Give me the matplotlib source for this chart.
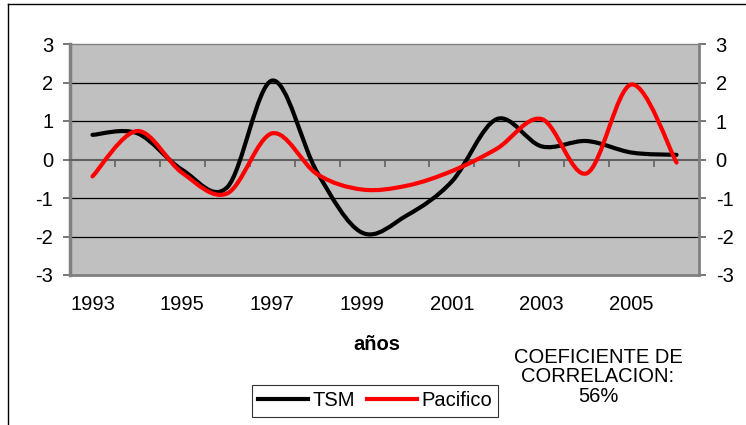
import numpy as np
import matplotlib
matplotlib.use('Agg')
import matplotlib.pyplot as plt
from matplotlib.path import Path
from matplotlib.patches import PathPatch
from matplotlib.lines import Line2D
import matplotlib.transforms as mtransforms

#### DATA

years = [1993, 1994, 1995, 1996, 1997, 1998, 1999, 2000, 2001, 2002, 2003, 2004, 2005, 2006]
tsm = [0.64, 0.68, -0.27, -0.72, 2.05, -0.33, -1.90, -1.45, -0.57, 1.05, 0.34, 0.48, 0.18, 0.12]
pacifico = [-0.44, 0.74, -0.35, -0.88, 0.68, -0.38, -0.78, -0.68, -0.30, 0.28, 1.05, -0.36, 1.95, -0.08]

yticks = [-3, -2, -1, 0, 1, 2, 3]
xlabel = 'años'
note = 'COEFICIENTE DE\nCORRELACION:\n56%'

#### STYLE

plt.rcParams['font.family'] = ['Liberation Sans', 'DejaVu Sans']
plt.rcParams['axes.unicode_minus'] = False
fs = 14.5
W, H = 746, 425


def smooth_path(x, y):
	# Excel-like smoothed line: cubic bezier through every point
	pts = np.column_stack([x, y]).astype(float)
	n = len(pts)
	verts = [pts[0]]
	codes = [Path.MOVETO]
	for i in range(n - 1):
		p0 = pts[max(i - 1, 0)]
		p1 = pts[i]
		p2 = pts[i + 1]
		p3 = pts[min(i + 2, n - 1)]
		verts += [p1 + (p2 - p0) / 6., p2 - (p3 - p1) / 6., p2]
		codes += [Path.CURVE4] * 3
	return Path(verts, codes)


fig = plt.figure(figsize=(W / 100., H / 100.), dpi=100)
fig.patch.set_facecolor('white')

# outer chart border (clipped at right/bottom as in the picture)
fig.add_artist(Line2D([8. / W, 1], [1 - 4. / H, 1 - 4. / H], transform=fig.transFigure, color='black', lw=1))
fig.add_artist(Line2D([8. / W, 8. / W], [0, 1 - 4. / H], transform=fig.transFigure, color='black', lw=1))

x0, x1, y0, y1 = 70, 699, 44, 275
ax = fig.add_axes([x0 / W, 1 - y1 / H, (x1 - x0) / W, (y1 - y0) / H])
ax.set_facecolor('#C0C0C0')

xpos = np.arange(len(years))
ax.set_xlim(-0.5, len(years) - 0.5)
ax.set_ylim(-3, 3)

# gridlines
for v in yticks[1:-1]:
	if v != 0:
		ax.axhline(v, color='black', lw=0.9, zorder=1)

# category axis at 0
ax.spines['bottom'].set_position(('data', 0))
ax.spines['bottom'].set_color('#606060')
ax.spines['bottom'].set_linewidth(1.5)
ax.set_xticks(np.arange(0.5, len(years) - 1, 1.0))
ax.tick_params(axis='x', direction='out', length=5, width=1.2, color='#606060', labelbottom=False)

for s in ['top', 'right']:
	ax.spines[s].set_visible(False)
ax.spines['left'].set_color('#808080')
ax.spines['left'].set_linewidth(2.5)
ax.set_yticks(yticks)
ax.tick_params(axis='y', direction='out', length=5, width=1.2, color='#606060', pad=7, labelsize=fs)

# plot-area frame on the twin axis
ax2 = ax.twinx()
ax2.set_ylim(-3, 3)
ax2.set_yticks(yticks)
ax2.tick_params(axis='y', direction='out', length=5, width=1.2, color='#606060', pad=7, labelsize=fs)
for s in ['top', 'bottom', 'right']:
	ax2.spines[s].set_color('#808080')
ax2.spines['top'].set_linewidth(1.0)
ax2.spines['bottom'].set_linewidth(2.0)
ax2.spines['right'].set_linewidth(2.0)
ax2.spines['left'].set_visible(False)

# series
ax.add_patch(PathPatch(smooth_path(xpos, tsm), facecolor='none', edgecolor='black', lw=3, zorder=3, capstyle='round'))
ax.add_patch(PathPatch(smooth_path(xpos, pacifico), facecolor='none', edgecolor='#FF0000', lw=3, zorder=4, capstyle='round'))

# year labels, every other category
trans = mtransforms.blended_transform_factory(ax.transData, fig.transFigure)
for i in range(0, len(years), 2):
	ax.text(xpos[i], 1 - 305. / H, str(years[i]), transform=trans, ha='center', va='center', fontsize=fs)

fig.text(377. / W, 1 - 345. / H, xlabel, ha='center', va='center', fontsize=fs, fontweight='bold')
fig.text(598. / W, 1 - 377. / H, note, ha='center', va='center', fontsize=fs, linespacing=1.05)

handles = [Line2D([], [], color='black', lw=3), Line2D([], [], color='#FF0000', lw=3)]
leg = fig.legend(handles, ['TSM', 'Pacifico'], loc='center', bbox_to_anchor=(375. / W, 1 - 401. / H),
	ncol=2, fontsize=fs, frameon=True, fancybox=False, handlelength=2.5, handletextpad=0.2,
	columnspacing=0.6, borderpad=0.3, borderaxespad=0)
leg.get_frame().set_edgecolor('black')
leg.get_frame().set_linewidth(0.8)

plt.savefig('out.png', dpi=100)
